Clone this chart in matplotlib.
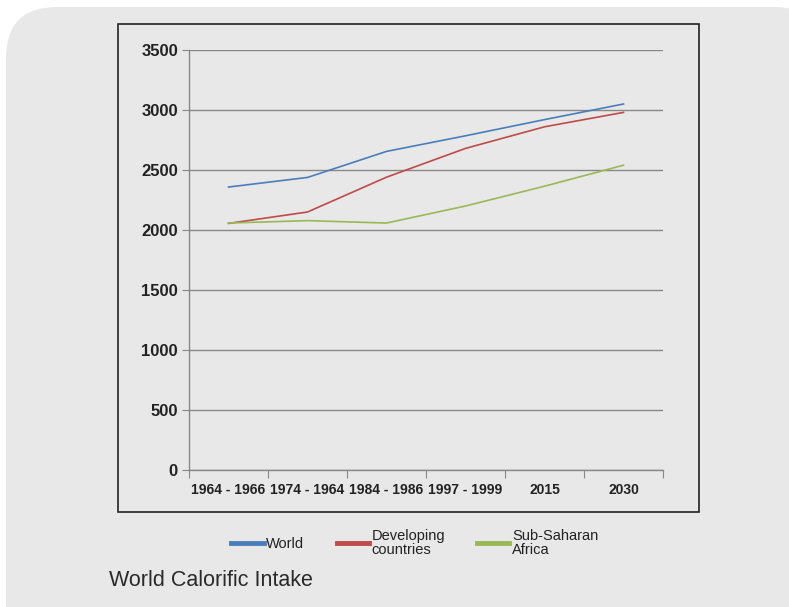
import matplotlib.pyplot as plt
from matplotlib.patches import FancyBboxPatch, Rectangle
from matplotlib.lines import Line2D

plt.rcParams['font.family'] = ['Liberation Sans', 'DejaVu Sans']

# 数据
periods = ['1964 - 1966', '1974 - 1964', '1984 - 1986', '1997 - 1999', '2015', '2030']
world = [2358, 2438, 2655, 2785, 2920, 3050]
developing = [2055, 2150, 2440, 2680, 2860, 2980]
ssa = [2058, 2078, 2058, 2200, 2365, 2540]
series_names = ['World', 'Developing\ncountries', 'Sub-Saharan\nAfrica']
colors = ['#4a7ebb', '#be4b48', '#98b954']

W, H = 789, 607
fig = plt.figure(figsize=(W / 100, H / 100), dpi=100)
fig.patch.set_facecolor('white')

# 圆角灰色背景
bg = FancyBboxPatch((6 / W, 1 - 700 / H), 820 / W, 693 / H,
                    boxstyle='round,pad=0,rounding_size=0.065',
                    transform=fig.transFigure, facecolor='#e8e8e8',
                    edgecolor='none', zorder=-2, mutation_aspect=W / H)
fig.patches.append(bg)

# 图表外框
frame = Rectangle((118 / W, 1 - 512 / H), (699 - 118) / W, (512 - 24) / H,
                  transform=fig.transFigure, facecolor='none',
                  edgecolor='#222222', linewidth=1.2, zorder=-1)
fig.patches.append(frame)

ax = fig.add_axes([189 / W, 1 - 470 / H, (663 - 189) / W, (470 - 50) / H])
ax.set_facecolor('none')
ax.set_zorder(2)

x = list(range(len(periods)))
for vals, c, name in zip([world, developing, ssa], colors, series_names):
    ax.plot(x, vals, color=c, linewidth=1.2, label=name)

ax.set_xlim(-0.5, len(periods) - 0.5)
ax.set_ylim(0, 3500)
ax.set_yticks(range(0, 3501, 500))
ax.grid(axis='y', color='#888888', linewidth=1)
ax.set_axisbelow(True)

# 分类边界刻度 + 居中标签
ax.set_xticks([i - 0.5 for i in range(len(periods) + 1)])
ax.set_xticklabels([])
ax.set_xticks(x, minor=True)
ax.set_xticklabels(periods, minor=True, fontsize=10, fontweight='bold', color='#222222')
ax.tick_params(axis='x', which='major', length=6, color='#888888', direction='out')
ax.tick_params(axis='x', which='minor', length=0, pad=9)
ax.tick_params(axis='y', length=5, color='#888888', labelsize=12, pad=3,
               labelcolor='#222222')
for lbl in ax.get_yticklabels():
    lbl.set_fontweight('bold')

for s in ['top', 'right']:
    ax.spines[s].set_visible(False)
for s in ['left', 'bottom']:
    ax.spines[s].set_color('#888888')
    ax.spines[s].set_linewidth(1)

# 图例
handles = [Line2D([], [], color=c, linewidth=3.5) for c in colors]
fig.legend(handles, series_names, loc='center', ncol=3, frameon=False,
           bbox_to_anchor=(415 / W, 1 - 543 / H), fontsize=10.5,
           handlelength=2.2, handletextpad=0.2, columnspacing=2.2,
           labelspacing=0.1)
for t in fig.legends[0].get_texts():
    t.set_linespacing(0.95)
    t.set_color('#222222')

fig.text(109 / W, 1 - 580 / H, 'World Calorific Intake', fontsize=15.5,
         color='#2a2a2a', va='center', ha='left')

fig.savefig('out.png', dpi=100)
